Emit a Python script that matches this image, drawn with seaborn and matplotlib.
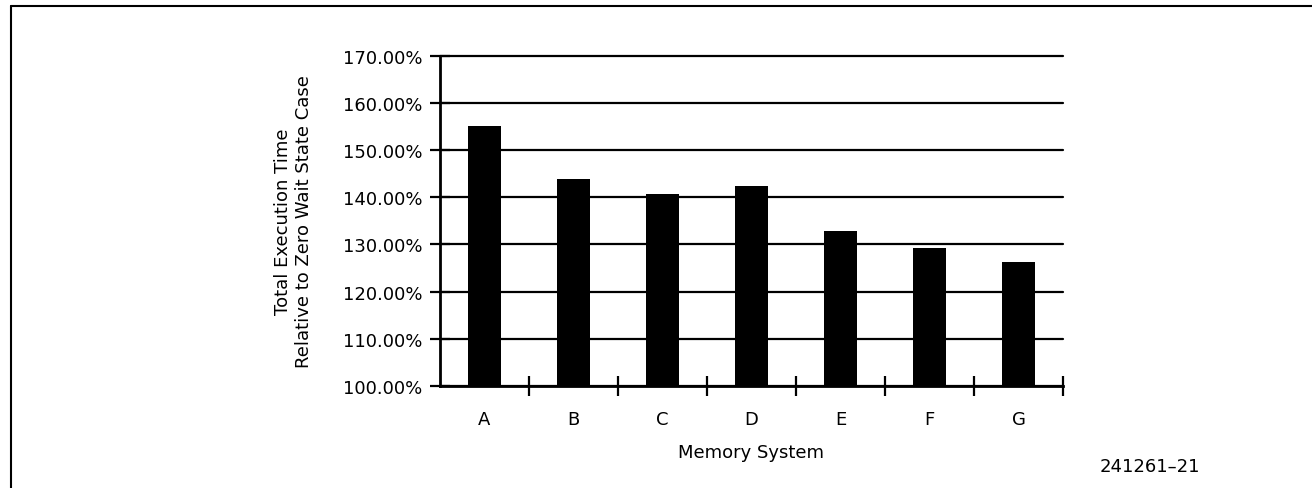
import seaborn as sns
import matplotlib.pyplot as plt
from matplotlib.lines import Line2D
from matplotlib.ticker import FixedLocator
import numpy as np
import pandas as pd

# Memory systems and execution time relative to zero wait state (%)
systems = ["A", "B", "C", "D", "E", "F", "G"]
exec_time = [155.0, 143.9, 140.7, 142.3, 132.9, 129.3, 126.2]
y_ticks = [100, 110, 120, 130, 140, 150, 160, 170]

df = pd.DataFrame({"system": systems, "time": exec_time})

sns.set_style("white")
plt.rcParams["font.family"] = ["DejaVu Sans"]
plt.rcParams["text.color"] = "black"
plt.rcParams["axes.labelcolor"] = "black"
plt.rcParams["xtick.color"] = "black"
plt.rcParams["ytick.color"] = "black"

fig = plt.figure(figsize=(13.12, 4.89), dpi=100)
ax = fig.add_axes([440 / 1312, 1 - 387 / 489, (1063 - 440) / 1312, (387 - 56.7) / 489])

sns.barplot(data=df, x="system", y="time", color="black", width=0.37,
            saturation=1, edgecolor="black", linewidth=0, ax=ax, zorder=3)

ax.set_ylim(100, 170)
ax.set_xlim(-0.5, 6.5)
ax.set_yticks(y_ticks)
ax.set_yticklabels([f"{v:.2f}%" for v in y_ticks], fontsize=13)
ax.yaxis.grid(True, color="black", linewidth=1.6, zorder=1)
ax.set_axisbelow(True)
for gl in ax.get_ygridlines():
    gl.set_clip_on(False)

ax.tick_params(axis="y", left=True, direction="inout", length=15, width=1.6, color="black", pad=5)
ax.tick_params(axis="x", which="major", bottom=True, length=0, pad=17, labelsize=13)
ax.xaxis.set_minor_locator(FixedLocator(np.arange(0.5, 7, 1)))
ax.tick_params(axis="x", which="minor", bottom=True, direction="inout", length=15, width=1.6, color="black")

for side in ["top", "right"]:
    ax.spines[side].set_visible(False)
for side in ["left", "bottom"]:
    ax.spines[side].set_color("black")
    ax.spines[side].set_linewidth(2)

ax.set_xlabel("Memory System", fontsize=13, labelpad=11)
ax.set_ylabel("Total Execution Time\nRelative to Zero Wait State Case", fontsize=13, labelpad=22)

fig.text(1150 / 1312, 1 - 467 / 489, "241261\u201321", fontsize=13, ha="center", va="center")

# outer frame
fig.add_artist(Line2D([11 / 1312, 1], [1 - 7 / 489, 1 - 7 / 489], color="black", linewidth=1.5))
fig.add_artist(Line2D([11 / 1312, 11 / 1312], [0, 1 - 7 / 489], color="black", linewidth=1.5))

fig.savefig("out.png", dpi=100)
